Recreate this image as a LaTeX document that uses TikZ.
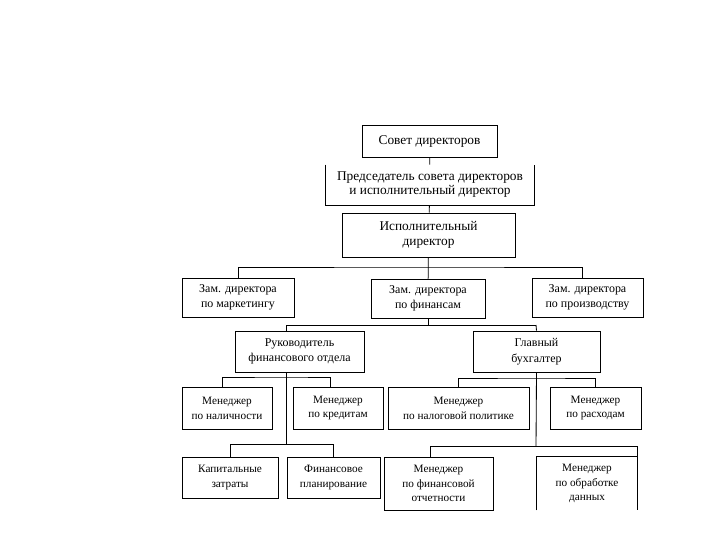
\documentclass[tikz,border=0pt]{standalone}
\usepackage{fontspec}
\setmainfont{Liberation Serif}
\begin{document}
\begin{tikzpicture}[
  x=0.025cm, y=-0.025cm,
  line width=0.6pt,
  every node/.style={align=center, inner sep=1pt},
  bigbox/.style={draw, font=\fontsize{9.5}{10.5}\selectfont},
  midbox/.style={draw, font=\fontsize{8.5}{11}\selectfont},
  smallbox/.style={draw, font=\fontsize{8}{10.5}\selectfont},
  openbox/.style={font=\fontsize{8}{10.5}\selectfont}
]
\useasboundingbox (0,0) rectangle (720,540);
% top of the chart
\node[bigbox, minimum width=3.375cm, minimum height=0.8cm] (sovet) at (429.5,141) {Совет директоров};
\node[font=\fontsize{9.5}{10}\selectfont, minimum width=5.2cm, minimum height=1cm] (pred) at (430,185)
  {Председатель совета директоров\\и исполнительный директор};
\draw (pred.north west) |- (pred.south east) -- (pred.north east);
\node[bigbox, minimum width=4.325cm, minimum height=1.1cm] (ispol) at (428.5,235) {Исполнительный\\директор};
% deputies
\node[midbox, minimum width=2.8cm, minimum height=0.975cm] (zmark) at (238,297.5) {Зам. директора\\по маркетингу};
\node[midbox, minimum width=2.85cm, minimum height=0.975cm] (zfin) at (428,298.5) {Зам. директора\\по финансам};
\node[midbox, minimum width=2.775cm, minimum height=0.975cm] (zpro) at (587.5,297.5) {Зам. директора\\по производству};
\node[midbox, minimum width=3.225cm, minimum height=1.025cm] (ruk) at (299.5,351.5) {Руководитель\\финансового отдела};
\node[midbox, minimum width=3.175cm, minimum height=1.025cm] (glav) at (536.5,351.5) {Главный\\бухгалтер};
% managers
\node[smallbox, minimum width=2.25cm, minimum height=1.05cm] (mnal) at (227,408) {Менеджер\\по наличности};
\node[smallbox, minimum width=2.25cm, minimum height=1.05cm] (mkred) at (338,408) {Менеджер\\по кредитам};
\node[smallbox, minimum width=3.525cm, minimum height=1.05cm] (mnalog) at (458.5,408) {Менеджер\\по налоговой политике};
\node[smallbox, minimum width=2.275cm, minimum height=1.05cm] (mrash) at (595.5,408) {Менеджер\\по расходам};
\node[smallbox, minimum width=2.4cm, minimum height=1.025cm] (kap) at (230,477.5) {Капитальные\\затраты};
\node[smallbox, minimum width=2.325cm, minimum height=1.025cm] (fplan) at (333.5,477.5) {Финансовое\\планирование};
\node[smallbox, minimum width=2.725cm, minimum height=1.325cm] (motch) at (438.5,483.5) {Менеджер\\по финансовой\\отчетности};
\node[openbox, minimum width=2.5cm, minimum height=1.325cm] (mdata) at (587,483.5) {Менеджер\\по обработке\\данных};
\draw (mdata.south west) |- (mdata.north east) -- (mdata.south east);
% bus points
\coordinate (b1) at (428,267);
\coordinate (b2) at (428,325);
\coordinate (rx) at (286,325);
\coordinate (gx) at (536,325);
\coordinate (r1) at (286,377);
\coordinate (r2) at (286,444);
\coordinate (g1) at (536,378);
\coordinate (g2) at (536,446);
% connectors
\draw (sovet) -- (pred);
\draw (pred) -- (ispol);
\draw (ispol) -- (zfin);
\draw (zmark.north) |- (b1) -| ([xshift=-0.125cm]zpro.north);
\draw (zfin) -- (b2);
\draw (rx) -- (gx);
\draw (rx) -- (rx |- ruk.north);
\draw (rx |- ruk.south) -- (r2);
\draw (gx) -- (glav.north);
\draw (glav.south) -- (g2);
\draw ([xshift=-0.125cm]mnal.north) |- (r1) -| ([xshift=-0.2cm]mkred.north);
\draw (kap.north) |- (r2) -| (fplan.north);
\draw (mnalog.north) |- (g1) -| (mrash.north);
\draw ([xshift=-0.2cm]motch.north) |- (g2) -| (mdata.north east);
\end{tikzpicture}
\end{document}
